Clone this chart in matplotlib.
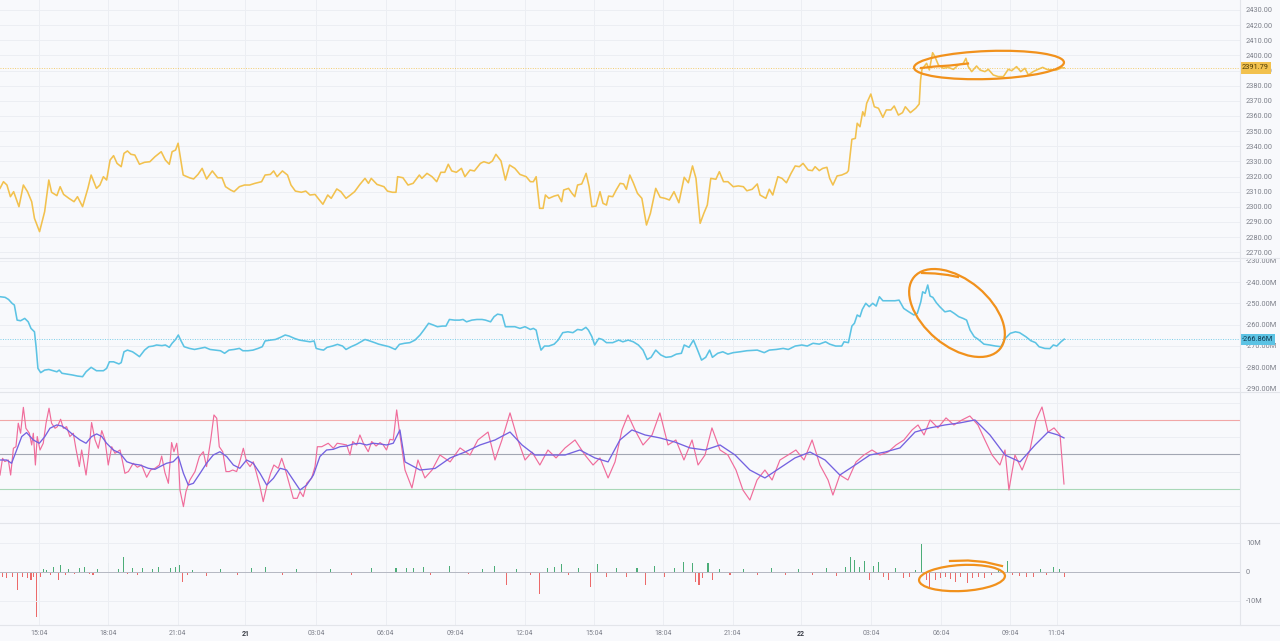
import matplotlib
matplotlib.use("Agg")
import matplotlib.pyplot as plt
from matplotlib.patches import Ellipse
from matplotlib.lines import Line2D
import matplotlib.transforms as mtransforms

# ---------------- data (time in hours since day 20 00:00) ----------------
price_t = [13.39, 13.54, 13.69, 13.84, 13.98, 14.21, 14.40, 14.58, 14.76, 14.88, 15.10, 15.32, 15.50, 15.62, 15.85,
           15.99, 16.14, 16.37, 16.59, 16.74, 16.96, 17.19, 17.33, 17.56, 17.71, 17.86, 18.00, 18.15, 18.30, 18.45,
           18.63, 18.75, 18.90, 19.05, 19.22, 19.42, 19.64, 19.87, 20.09, 20.36, 20.54, 20.71, 20.83, 20.98, 21.09,
           21.31, 21.58, 21.76, 21.95, 22.13, 22.32, 22.57, 22.80, 22.99, 23.14, 23.36, 23.51, 23.74, 23.96, 24.18,
           24.41, 24.70, 24.85, 25.08, 25.22, 25.37, 25.60, 25.82, 25.97, 26.16, 26.42, 26.61, 26.79, 27.01, 27.20,
           27.35, 27.56, 27.71, 27.95, 28.13, 28.35, 28.54, 28.72, 28.95, 29.17, 29.32, 29.44, 29.69, 29.99, 30.14,
           30.36, 30.51, 30.58, 30.81, 31.03, 31.25, 31.52, 31.63, 31.85, 32.07, 32.27, 32.45, 32.62, 32.77, 32.92,
           33.12, 33.34, 33.49, 33.71, 33.90, 34.16, 34.31, 34.53, 34.68, 34.83, 35.05, 35.24, 35.42, 35.65, 35.87,
           36.14, 36.32, 36.45, 36.57, 36.72, 36.87, 36.97, 37.12, 37.35, 37.52, 37.67, 37.76, 37.97, 38.12, 38.24,
           38.36, 38.54, 38.73, 38.86, 38.98, 39.16, 39.33, 39.46, 39.61, 39.70, 39.88, 40.03, 40.20, 40.35, 40.47,
           40.62, 40.77, 40.95, 41.14, 41.34, 41.51, 41.74, 41.93, 42.14, 42.33, 42.53, 42.74, 42.97, 43.15, 43.33,
           43.48, 43.66, 43.82, 43.97, 44.12, 44.34, 44.49, 44.67, 44.86, 45.09, 45.31, 45.53, 45.68, 45.91, 46.13,
           46.25, 46.50, 46.65, 46.80, 47.02, 47.20, 47.39, 47.59, 47.77, 47.95, 48.11, 48.33, 48.51, 48.63, 48.81,
           48.96, 49.14, 49.26, 49.40, 49.58, 49.78, 50.00, 50.07, 50.22, 50.37, 50.45, 50.57, 50.69, 50.77, 50.86,
           51.04, 51.19, 51.37, 51.56, 51.71, 51.91, 52.05, 52.23, 52.41, 52.53, 52.75, 52.98, 53.13, 53.19, 53.25,
           53.45, 53.57, 53.71, 53.81, 53.96, 54.17, 54.39, 54.61, 54.82, 55.04, 55.15, 55.25, 55.40, 55.61, 55.76,
           55.97, 56.12, 56.33, 56.55, 56.77, 56.98, 57.13, 57.34, 57.52, 57.70, 57.85, 58.06, 58.21, 58.47, 58.64,
           58.86, 59.07, 59.29, 59.40]
price_v = [2312.2, 2316.6, 2314.4, 2306.7, 2310.0, 2300.1, 2314.4, 2310.0, 2303.4, 2292.4, 2283.6, 2296.8, 2317.7, 2309.6, 2307.4,
           2313.3, 2308.2, 2305.6, 2303.4, 2306.7, 2300.1, 2312.2, 2321.0, 2312.2, 2314.4, 2319.9, 2317.7, 2330.9, 2333.8, 2328.7,
           2326.5, 2335.3, 2336.9, 2334.7, 2334.2, 2328.1, 2329.4, 2329.8, 2333.1, 2336.4, 2330.9, 2328.1, 2336.4, 2337.5, 2342.0,
           2321.0, 2319.2, 2318.4, 2321.4, 2325.4, 2318.4, 2323.7, 2319.2, 2319.2, 2313.3, 2311.1, 2310.0, 2313.3, 2314.4, 2314.4,
           2315.5, 2316.6, 2321.0, 2321.4, 2323.7, 2319.9, 2323.7, 2321.0, 2314.4, 2310.4, 2309.6, 2310.4, 2307.8, 2308.2, 2304.5,
           2301.7, 2307.8, 2305.6, 2311.8, 2310.0, 2305.6, 2307.8, 2310.0, 2314.8, 2318.8, 2315.5, 2318.8, 2314.8, 2313.3, 2310.4,
           2309.6, 2309.6, 2319.9, 2319.2, 2314.4, 2315.5, 2321.0, 2318.8, 2322.1, 2319.9, 2316.6, 2322.8, 2322.8, 2328.1, 2323.7,
           2322.8, 2325.4, 2319.9, 2324.3, 2323.7, 2328.7, 2329.8, 2328.7, 2330.3, 2334.7, 2330.3, 2317.7, 2327.6, 2325.4, 2321.4,
           2319.9, 2316.6, 2316.6, 2319.9, 2299.0, 2299.0, 2307.8, 2305.6, 2307.1, 2307.8, 2303.4, 2311.1, 2312.2, 2308.9, 2306.7,
           2314.4, 2315.1, 2322.1, 2313.3, 2300.1, 2300.5, 2310.0, 2302.3, 2301.2, 2307.1, 2306.7, 2311.1, 2315.5, 2315.1, 2311.6,
           2321.0, 2315.9, 2308.9, 2305.6, 2288.0, 2295.7, 2312.2, 2306.3, 2305.6, 2304.5, 2310.0, 2302.7, 2319.5, 2315.9, 2327.0,
           2318.8, 2289.1, 2295.7, 2301.2, 2318.8, 2318.2, 2323.2, 2316.6, 2316.6, 2313.3, 2313.8, 2313.3, 2310.6, 2311.6, 2315.1,
           2307.8, 2305.6, 2311.6, 2307.8, 2319.9, 2318.8, 2315.9, 2322.1, 2327.0, 2326.5, 2328.7, 2324.3, 2323.9, 2326.5, 2323.9,
           2325.4, 2326.1, 2318.8, 2314.4, 2320.4, 2321.0, 2322.5, 2323.9, 2344.6, 2345.2, 2355.2, 2352.9, 2362.8, 2360.0, 2368.4,
           2374.5, 2366.1, 2365.1, 2359.1, 2364.0, 2364.0, 2366.6, 2360.6, 2362.2, 2366.1, 2362.2, 2365.1, 2367.9, 2383.8, 2390.8,
           2394.8, 2390.4, 2401.8, 2399.2, 2393.7, 2391.5, 2392.1, 2390.8, 2393.7, 2394.8, 2398.1, 2392.6, 2389.3, 2393.0, 2390.4,
           2389.3, 2390.8, 2387.1, 2386.0, 2386.0, 2390.8, 2389.9, 2392.6, 2389.3, 2391.5, 2387.1, 2389.3, 2390.4, 2392.1, 2390.8,
           2390.4, 2390.4, 2391.8, 2391.79]

flow_t = [13.39, 13.61, 13.76, 13.91, 14.01, 14.13, 14.28, 14.46, 14.61, 14.73, 14.88, 14.95, 15.03, 15.15, 15.32,
          15.50, 15.70, 15.85, 15.95, 16.07, 16.29, 16.52, 16.74, 16.96, 17.11, 17.33, 17.56, 17.86, 18.00, 18.12,
          18.30, 18.53, 18.63, 18.75, 18.90, 19.12, 19.27, 19.42, 19.64, 19.82, 20.01, 20.16, 20.39, 20.54, 20.71,
          20.83, 20.98, 21.10, 21.20, 21.35, 21.58, 21.80, 22.02, 22.25, 22.47, 22.69, 22.92, 23.10, 23.29, 23.51,
          23.74, 23.89, 24.11, 24.33, 24.55, 24.73, 24.85, 25.08, 25.30, 25.52, 25.72, 25.89, 26.12, 26.34, 26.57,
          26.79, 26.97, 27.06, 27.23, 27.38, 27.53, 27.76, 27.98, 28.20, 28.35, 28.57, 28.80, 28.99, 29.17, 29.35,
          29.59, 29.76, 29.99, 30.21, 30.48, 30.66, 30.88, 31.11, 31.33, 31.55, 31.73, 31.92, 32.12, 32.30, 32.52,
          32.67, 32.82, 33.04, 33.26, 33.41, 33.56, 33.79, 34.01, 34.23, 34.38, 34.60, 34.75, 34.90, 35.10, 35.24,
          35.42, 35.65, 35.87, 36.09, 36.32, 36.45, 36.57, 36.67, 36.78, 36.93, 37.12, 37.35, 37.52, 37.72, 37.94,
          38.16, 38.36, 38.54, 38.72, 38.83, 38.98, 39.10, 39.28, 39.43, 39.61, 39.88, 40.14, 40.32, 40.55, 40.77,
          40.99, 41.19, 41.37, 41.54, 41.74, 41.96, 42.18, 42.41, 42.63, 42.85, 42.97, 43.18, 43.37, 43.52, 43.72,
          43.90, 44.07, 44.19, 44.42, 44.64, 44.86, 45.09, 45.38, 45.68, 46.13, 46.43, 46.65, 46.95, 47.25, 47.47,
          47.77, 48.06, 48.29, 48.54, 48.81, 49.08, 49.26, 49.52, 49.78, 49.88, 50.07, 50.22, 50.33, 50.45, 50.57,
          50.67, 50.82, 50.97, 51.12, 51.27, 51.41, 51.56, 51.79, 52.08, 52.26, 52.46, 52.68, 52.90, 53.05, 53.20,
          53.28, 53.39, 53.50, 53.60, 53.72, 53.87, 54.02, 54.24, 54.47, 54.64, 54.84, 55.03, 55.18, 55.33, 55.51,
          55.69, 55.93, 56.18, 56.43, 56.67, 56.85, 57.07, 57.29, 57.47, 57.74, 57.96, 58.16, 58.31, 58.56, 58.78,
          58.93, 59.08, 59.26, 59.40]
flow_v = [-246.9, -247.2, -248.2, -250.0, -250.8, -257.9, -258.2, -257.1, -258.7, -261.8, -263.4, -270.4, -280.6, -282.6, -281.4,
          -281.1, -281.7, -282.2, -281.4, -282.9, -283.3, -283.7, -284.2, -284.5, -282.2, -280.1, -281.7, -281.7, -280.6, -277.5,
          -277.5, -278.5, -277.9, -272.8, -272.0, -272.8, -273.9, -275.1, -272.0, -270.4, -270.1, -269.6, -269.9, -269.6, -270.7,
          -268.8, -267.0, -264.9, -267.3, -270.4, -271.2, -271.7, -271.2, -270.7, -271.7, -272.0, -272.3, -273.5, -272.0, -271.7,
          -271.2, -272.3, -272.3, -272.0, -271.2, -270.4, -267.7, -267.3, -267.0, -266.0, -264.9, -265.4, -266.5, -267.3, -267.7,
          -268.1, -267.7, -271.2, -271.7, -272.0, -270.7, -270.1, -269.3, -270.1, -271.7, -270.4, -269.3, -268.1, -267.0, -267.6,
          -268.5, -269.2, -269.8, -270.4, -271.7, -269.3, -268.8, -268.5, -267.3, -264.9, -262.3, -259.4, -260.2, -261.0, -260.7,
          -260.7, -257.6, -257.9, -257.9, -257.6, -258.7, -257.9, -257.6, -257.6, -257.9, -258.7, -256.3, -255.1, -255.5, -261.0,
          -261.0, -261.0, -261.8, -261.0, -262.3, -261.8, -262.6, -267.6, -272.0, -270.1, -270.1, -269.2, -267.3, -263.8, -263.4,
          -263.8, -262.3, -262.6, -261.3, -262.6, -265.7, -269.6, -266.5, -267.0, -268.5, -268.5, -267.3, -268.1, -267.3, -268.1,
          -269.6, -272.0, -276.4, -275.4, -272.0, -274.3, -275.4, -275.1, -273.9, -273.5, -269.6, -270.7, -267.3, -271.2, -276.7,
          -275.4, -272.0, -275.4, -273.5, -272.8, -273.9, -273.2, -272.8, -272.3, -272.0, -273.2, -272.0, -271.7, -271.2, -271.7,
          -270.1, -269.6, -270.1, -268.8, -269.2, -268.1, -269.2, -270.1, -270.1, -268.1, -268.5, -260.7, -259.4, -255.5, -256.3,
          -252.9, -250.0, -251.6, -250.0, -251.3, -246.9, -248.8, -248.8, -248.8, -248.5, -252.4, -254.0, -255.5, -254.7, -249.3,
          -244.6, -245.3, -241.4, -246.6, -247.2, -249.7, -251.6, -254.0, -253.5, -254.7, -256.3, -257.1, -257.9, -262.6, -265.7,
          -267.0, -269.2, -269.6, -270.1, -270.4, -266.5, -264.1, -263.4, -263.8, -265.7, -267.6, -268.5, -270.4, -271.2, -271.3,
          -269.6, -270.1, -268.1, -266.86]

rsi_t = [13.39, 13.50, 13.60, 13.75, 13.85, 13.97, 14.08, 14.18, 14.28, 14.40, 14.51, 14.66, 14.76, 14.83, 14.92,
         15.00, 15.12, 15.26, 15.38, 15.51, 15.62, 15.77, 15.87, 16.01, 16.13, 16.27, 16.41, 16.56, 16.67, 16.82,
         16.92, 17.11, 17.21, 17.35, 17.50, 17.64, 17.79, 17.93, 18.07, 18.22, 18.36, 18.58, 18.69, 18.79, 18.94,
         19.15, 19.33, 19.51, 19.73, 19.90, 20.09, 20.28, 20.38, 20.52, 20.67, 20.81, 20.91, 21.03, 21.10, 21.17,
         21.32, 21.43, 21.60, 21.82, 22.01, 22.18, 22.32, 22.50, 22.64, 22.76, 22.87, 23.02, 23.16, 23.30, 23.45,
         23.62, 23.74, 23.91, 24.05, 24.20, 24.34, 24.48, 24.63, 24.77, 24.92, 25.09, 25.23, 25.42, 25.57, 25.71,
         25.85, 26.07, 26.24, 26.36, 26.50, 26.65, 26.86, 27.01, 27.11, 27.30, 27.44, 27.58, 27.80, 27.97, 28.16,
         28.38, 28.52, 28.64, 28.81, 28.95, 29.10, 29.31, 29.46, 29.65, 29.82, 29.96, 30.10, 30.25, 30.39, 30.54,
         30.65, 30.90, 31.20, 31.46, 31.76, 32.07, 32.41, 32.85, 33.28, 33.71, 34.05, 34.49, 34.79, 35.09, 35.44,
         35.78, 36.09, 36.39, 36.73, 37.08, 37.43, 37.82, 38.25, 38.68, 39.03, 39.33, 39.68, 39.98, 40.28, 40.54,
         40.84, 41.19, 41.58, 41.92, 42.27, 42.61, 42.96, 43.31, 43.57, 43.87, 44.17, 44.52, 44.86, 45.21, 45.51,
         45.81, 46.12, 46.46, 46.77, 47.11, 47.46, 47.80, 48.15, 48.50, 48.84, 49.19, 49.40, 49.70, 50.05, 50.40,
         50.74, 51.09, 51.43, 51.78, 52.13, 52.47, 52.82, 53.08, 53.34, 53.60, 53.94, 54.29, 54.63, 54.98, 55.32,
         55.67, 55.97, 56.28, 56.62, 56.84, 57.01, 57.27, 57.58, 57.92, 58.18, 58.44, 58.70, 58.96, 59.22, 59.39]
rsi_v = [38.1, 47.8, 45.9, 46.8, 38.1, 53.6, 54.5, 68.1, 62.3, 77.3, 65.2, 62.3, 55.5, 62.3, 43.9,
         60.4, 52.6, 56.5, 68.1, 76.8, 68.1, 65.2, 66.1, 70.4, 65.2, 66.1, 60.4, 62.3, 53.6, 43.0,
         52.6, 38.1, 48.8, 68.5, 58.4, 53.6, 63.8, 58.4, 43.9, 54.5, 50.7, 52.6, 45.8, 39.1, 40.1,
         44.9, 42.6, 43.9, 36.8, 41.0, 42.0, 43.9, 49.1, 39.5, 33.3, 56.9, 51.6, 56.5, 48.8, 29.4,
         19.8, 28.5, 35.2, 40.1, 48.8, 51.6, 43.0, 58.4, 72.9, 71.0, 54.5, 51.6, 40.1, 40.1, 41.0,
         40.1, 44.9, 53.6, 45.8, 43.0, 45.8, 39.1, 31.4, 22.7, 31.4, 39.1, 43.9, 42.0, 47.8, 42.0,
         35.2, 24.6, 24.6, 28.5, 25.6, 33.3, 36.2, 43.0, 54.5, 54.5, 55.5, 56.5, 53.6, 56.5, 56.1,
         55.5, 49.7, 57.5, 55.5, 61.3, 56.5, 51.6, 57.5, 54.9, 56.9, 55.5, 52.6, 58.8, 58.4, 75.8,
         64.2, 41.0, 30.6, 46.8, 36.4, 41.0, 49.7, 45.7, 53.8, 49.7, 58.4, 63.0, 46.8, 58.4, 74.1,
         58.4, 46.8, 51.4, 43.9, 52.6, 48.0, 53.8, 58.4, 49.7, 43.9, 48.0, 36.4, 45.7, 64.2, 72.9,
         64.2, 55.5, 61.3, 74.1, 55.5, 58.4, 46.8, 58.4, 43.9, 49.7, 65.4, 52.6, 49.7, 41.0, 29.4,
         23.6, 35.2, 41.0, 35.2, 46.8, 49.7, 52.6, 46.8, 58.4, 43.9, 35.2, 26.5, 38.1, 35.2, 45.7,
         49.7, 52.6, 49.7, 51.4, 55.5, 58.4, 64.2, 67.1, 61.3, 70.0, 65.4, 71.2, 67.1, 70.0, 72.3,
         67.1, 58.4, 49.7, 43.9, 52.6, 29.4, 49.7, 41.0, 52.6, 70.0, 77.5, 63.0, 65.4, 61.3, 32.9]

rsi_ma_t = [13.39, 13.68, 13.89, 14.11, 14.33, 14.54, 14.83, 15.09, 15.33, 15.55, 15.84, 16.06, 16.27, 16.56, 16.85,
            17.11, 17.35, 17.57, 17.79, 18.00, 18.29, 18.58, 18.87, 19.15, 19.44, 19.80, 20.09, 20.31, 20.59, 20.88,
            21.10, 21.32, 21.53, 21.75, 22.04, 22.32, 22.61, 22.90, 23.19, 23.48, 23.76, 24.05, 24.34, 24.63, 24.92,
            25.21, 25.50, 25.78, 26.07, 26.36, 26.65, 26.94, 27.22, 27.51, 27.80, 28.09, 28.38, 28.67, 28.95, 29.24,
            29.53, 29.82, 30.10, 30.39, 30.68, 30.90, 31.55, 32.20, 32.85, 33.49, 34.14, 34.79, 35.44, 35.96, 36.52,
            37.17, 37.82, 38.46, 39.11, 39.68, 40.19, 40.71, 41.28, 41.92, 42.57, 43.22, 43.87, 44.52, 45.17, 45.81,
            46.46, 47.11, 47.76, 48.41, 49.06, 49.70, 50.36, 51.00, 51.65, 52.30, 52.95, 53.60, 54.24, 54.89, 55.54,
            56.19, 56.84, 57.49, 58.14, 58.70, 59.13, 59.39]
rsi_ma_v = [46.8, 46.8, 44.9, 52.6, 60.4, 62.7, 58.4, 56.5, 60.4, 65.2, 67.1, 66.5, 64.6, 61.3, 58.4,
            56.5, 60.4, 61.9, 60.4, 56.5, 52.6, 50.7, 45.8, 44.5, 43.9, 42.0, 41.4, 43.0, 44.9, 45.8,
            48.8, 39.1, 32.3, 33.3, 39.1, 44.9, 49.7, 51.6, 48.8, 43.9, 42.0, 46.8, 44.9, 39.1, 32.3,
            36.2, 42.0, 41.0, 35.2, 29.4, 32.3, 38.1, 48.8, 52.6, 53.0, 54.5, 54.9, 56.1, 56.5, 55.5,
            56.5, 56.1, 55.5, 56.5, 64.2, 45.7, 41.0, 41.9, 48.0, 51.4, 55.5, 58.4, 63.0, 55.5, 49.7,
            49.7, 49.7, 52.6, 48.0, 45.7, 58.4, 64.2, 61.3, 59.6, 57.2, 53.8, 52.6, 55.5, 49.7, 41.0,
            36.4, 42.2, 48.0, 51.4, 46.8, 38.1, 43.9, 49.7, 51.4, 53.8, 63.0, 65.4, 67.1, 68.3, 70.0,
            61.3, 49.7, 45.7, 55.5, 63.0, 61.3, 59.6]

hist_t = [13.48, 13.69, 13.92, 14.13, 14.37, 14.58, 14.73, 14.82, 14.97, 15.12, 15.27, 15.41, 15.56, 15.71, 15.92,
          16.01, 16.22, 16.37, 16.61, 16.81, 17.05, 17.26, 17.41, 17.62, 17.86, 18.09, 18.30, 18.51, 18.75, 18.90,
          19.11, 19.35, 19.55, 19.79, 20.00, 20.24, 20.54, 20.77, 20.98, 21.13, 21.28, 21.49, 21.73, 22.32, 22.92,
          23.66, 24.26, 24.85, 25.60, 26.19, 27.09, 27.68, 28.58, 29.47, 30.51, 30.96, 31.26, 31.70, 32.00, 32.83,
          33.64, 34.23, 34.77, 35.28, 35.72, 36.32, 36.71, 37.06, 37.36, 37.66, 37.96, 38.40, 38.94, 39.24, 39.60,
          40.04, 40.49, 40.93, 41.29, 41.68, 42.13, 42.57, 42.96, 43.32, 43.47, 43.61, 43.76, 44.00, 44.21, 44.51,
          44.95, 45.55, 46.15, 46.74, 47.34, 47.93, 48.53, 49.12, 49.57, 49.96, 50.17, 50.32, 50.55, 50.76, 50.97,
          51.15, 51.36, 51.60, 51.80, 52.10, 52.46, 52.70, 52.99, 53.23, 53.44, 53.59, 53.83, 54.04, 54.25, 54.48,
          54.72, 54.93, 55.23, 55.44, 55.68, 55.97, 56.27, 56.57, 56.93, 57.17, 57.46, 57.76, 58.06, 58.36, 58.65,
          58.95, 59.19, 59.40]
hist_v = [-1.6, -2.2, -1.6, -6.2, -1.6, -2.2, -2.8, -1.6, -15.4, -1.6, 0.9, 0.7, -1.0, 1.6, -2.8,
          2.4, -1.0, 0.9, -0.7, 1.3, 1.8, -0.7, -1.0, 0.9, -0.5, 3.2, -0.5, 0.9, 5.3, -0.7,
          1.3, -1.0, 1.3, -0.5, 0.9, 1.6, -0.5, 1.3, 1.8, 2.4, -3.3, -1.0, 0.7, -1.4, 0.9,
          -1.0, 1.3, 1.8, -1.0, 0.9, -3.7, 0.9, -1.0, 1.3, 1.3, 1.3, 1.3, 1.6, -1.0, 2.1,
          -0.7, 0.9, 2.1, -4.5, 0.9, -1.0, -7.6, 1.3, 1.6, 2.8, -1.0, 1.3, -5.1, 2.8, -1.6,
          1.3, -1.6, 1.3, -4.5, 2.1, -1.6, 1.3, 3.6, 3.0, -3.3, -4.5, -2.2, 3.0, -2.8, 0.9,
          -1.0, 0.9, -1.0, 1.3, -1.0, 0.9, -1.0, 1.3, -1.4, 1.8, 5.1, 4.1, 1.8, 3.9, -2.8,
          2.1, 3.6, -1.6, -2.8, 1.3, -2.2, -1.6, 0.7, 9.7, -2.8, -5.1, -2.8, -2.2, -1.6, -2.5,
          -3.3, -1.6, -3.7, -2.2, -1.6, -2.2, -1.0, 0.7, 3.9, -1.0, -1.4, -1.6, -1.6, 0.9, -1.0,
          1.8, 0.9, -1.6]

tick_hours = [15.067, 18.067, 21.067, 24.0, 27.067, 30.067, 33.067, 36.067, 39.067, 42.067, 45.067, 48.0,
              51.067, 54.067, 57.067, 59.067]
tick_labels = ["15:04", "18:04", "21:04", "21", "03:04", "06:04", "09:04", "12:04", "15:04", "18:04", "21:04", "22",
               "03:04", "06:04", "09:04", "11:04"]
price_ticks = [2270, 2280, 2290, 2300, 2310, 2320, 2330, 2340, 2350, 2360, 2370, 2380, 2390, 2400, 2410, 2420, 2430]
flow_ticks = [-290, -280, -270, -260, -250, -240, -230]
hist_ticks = [-10, 0, 10]
hist_tick_labels = ["-10M", "0", "10M"]
rsi_levels = [70, 50, 30]
price_last = 2391.79
flow_last = -266.86

# ---------------- style ----------------
BG = "#f8f9fc"
GRID = "#eceef3"
TXT = "#7d808a"
YEL = "#f2c14e"
CYA = "#5cc3e4"
FONT = "Roboto"
plt.rcParams["font.family"] = [FONT, "DejaVu Sans"]

W, H = 1280, 641
fig = plt.figure(figsize=(W / 100, H / 100), dpi=100, facecolor=BG)

XL, XR = 13.39, 67.0
plot_w = 1240 / W


def make_ax(top_px, bot_px):
    ax = fig.add_axes([0, 1 - bot_px / H, plot_w, (bot_px - top_px) / H])
    ax.set_facecolor(BG)
    for s in ax.spines.values():
        s.set_visible(False)
    ax.set_xlim(XL, XR)
    ax.set_xticks(tick_hours)
    ax.tick_params(axis="x", length=0, labelbottom=False)
    ax.grid(axis="x", color=GRID, lw=0.7)
    ax.yaxis.tick_right()
    ax.tick_params(axis="y", length=0, pad=4.3, labelsize=5.3, labelcolor=TXT)
    return ax


# panel 1: price
ax1 = make_ax(0, 258)
ax1.set_ylim(2266.2, 2436.6)
ax1.set_yticks(price_ticks)
ax1.set_yticklabels([f"{v:.2f}" for v in price_ticks])
ax1.grid(axis="y", color=GRID, lw=0.7)
ax1.axhline(price_last, color=YEL, lw=0.7, ls=(0, (1, 1.5)), alpha=0.8)
ax1.plot(price_t, price_v, color=YEL, lw=1.15, solid_joinstyle="round")
tr1 = mtransforms.blended_transform_factory(ax1.transAxes, ax1.transData)
ax1.text(1.0015, price_last, f"{price_last:.2f}", transform=tr1, ha="left", va="center", fontsize=5.3,
         color="#4b3a06", clip_on=False,
         bbox=dict(boxstyle="square,pad=0.32", fc=YEL, ec="none"), zorder=10)

# panel 2: flow
ax2 = make_ax(258, 392)
ax2.set_ylim(-291.7, -228.7)
ax2.set_yticks(flow_ticks)
ax2.set_yticklabels([f"{v:.2f}M" for v in flow_ticks])
ax2.grid(axis="y", color=GRID, lw=0.7)
ax2.axhline(flow_last, color=CYA, lw=0.7, ls=(0, (1, 1.5)), alpha=0.8)
ax2.plot(flow_t, flow_v, color=CYA, lw=1.15, solid_joinstyle="round")
tr2 = mtransforms.blended_transform_factory(ax2.transAxes, ax2.transData)
ax2.text(1.0015, flow_last, f"{flow_last:.2f}M", transform=tr2, ha="left", va="center", fontsize=5.3,
         color="#123a52", clip_on=False,
         bbox=dict(boxstyle="square,pad=0.28", fc=CYA, ec="none"), zorder=10)

# panel 3: RSI
ax3 = make_ax(392, 523)
ax3.set_ylim(10.3, 86.2)
ax3.set_yticks([20, 40, 60, 80])
ax3.set_yticklabels([])
ax3.grid(axis="y", color=GRID, lw=0.7)
for lvl, c in zip(rsi_levels, ["#f1a7a7", "#a3a7b3", "#a9d8b8"]):
    ax3.axhline(lvl, color=c, lw=0.8)
ax3.plot(rsi_t, rsi_v, color="#f06c9b", lw=0.85)
ax3.plot(rsi_ma_t, rsi_ma_v, color="#7462e0", lw=0.95)

# panel 4: histogram
ax4 = make_ax(523, 625)
ax4.set_ylim(-18.3, 16.9)
ax4.set_yticks(hist_ticks)
ax4.set_yticklabels(hist_tick_labels)
ax4.grid(axis="y", color=GRID, lw=0.7)
ax4.axhline(0, color="#b5b8c2", lw=0.7)
cols = ["#4cad78" if v >= 0 else "#ec6a6a" for v in hist_v]
ax4.bar(hist_t, hist_v, width=0.045, color=cols, linewidth=0)
ax4.tick_params(axis="x", labelbottom=True, labelsize=5.0, labelcolor=TXT, pad=3.6)
ax4.set_xticklabels(tick_labels)
for lab in ax4.get_xticklabels():
    if lab.get_text() in ("21", "22"):
        lab.set_fontweight("bold")
        lab.set_color("#3c3f48")

# separators
for ypx in (258, 392, 523, 625):
    fig.add_artist(Line2D([0, 1], [1 - ypx / H, 1 - ypx / H], color="#e3e5ea", lw=0.8))
fig.add_artist(Line2D([plot_w, plot_w], [1 - 625 / H, 1], color="#e3e5ea", lw=0.8))

# hand-drawn annotations (pixel overlay)
ov = fig.add_axes([0, 0, 1, 1], facecolor="none", zorder=20)
ov.set_xlim(0, W)
ov.set_ylim(H, 0)
ov.axis("off")
OR = "#f1911c"
ov.add_patch(Ellipse((989, 65), 150, 28, angle=-2, fill=False, ec=OR, lw=1.6))
ov.plot([921, 935, 950, 968], [68, 66.5, 65.5, 63.5], color=OR, lw=1.6)
ov.add_patch(Ellipse((957, 313), 112, 66, angle=40, fill=False, ec=OR, lw=1.6))
ov.plot([922, 935, 948, 958], [273, 273.5, 275, 277], color=OR, lw=1.6)
ov.add_patch(Ellipse((962, 578), 86, 26, angle=-3, fill=False, ec=OR, lw=1.6))
ov.plot([950, 968, 985, 1002], [561, 560.5, 562, 566], color=OR, lw=1.6)

fig.savefig("out.png", dpi=100, facecolor=BG)
